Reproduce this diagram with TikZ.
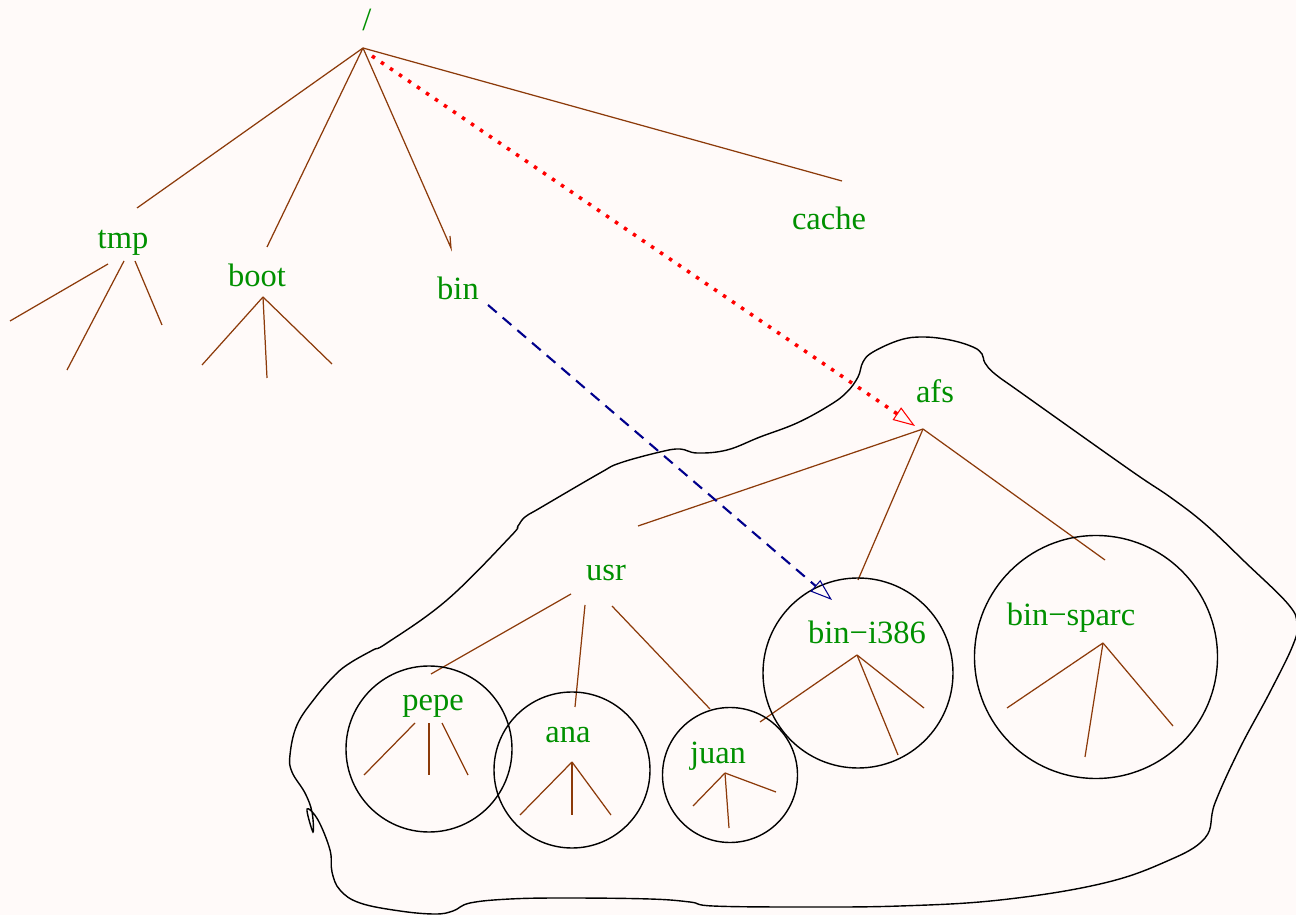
\documentclass[tikz,border=0pt]{standalone}
\usepackage{fontspec}
\setmainfont{Liberation Serif}
\usetikzlibrary{arrows.meta}

\definecolor{dirgreen}{RGB}{0,144,0}
\definecolor{linkbrown}{RGB}{140,58,10}
\definecolor{linknavy}{RGB}{0,0,140}
\definecolor{pagebg}{RGB}{255,250,249}

\begin{document}
\begin{tikzpicture}[x=0.02cm,y=-0.02cm,
    dir/.style={text=dirgreen,font=\fontsize{18.5}{22}\selectfont,inner sep=0pt,anchor=base},
    br/.style={draw=linkbrown,line width=0.7pt},
    ring/.style={draw=black,line width=0.8pt},
    tip/.style={-{Triangle[open,length=0.44cm,width=0.3cm,line width=0.6pt]}}]
  \fill[pagebg] (0,0) rectangle (1296,915);
  \useasboundingbox (0,0) rectangle (1296,915);

  % labels
  \node[dir] (root) at (367,31) {/};
  \node[dir] (tmp) at (123,249) {tmp};
  \node[dir] (boot) at (257,287) {boot};
  \node[dir] (bin) at (458,300) {bin};
  \node[dir] (cache) at (829,230) {cache};
  \node[dir] (afs) at (935,403) {afs};
  \node[dir] (usr) at (606,581) {usr};
  \node[dir] (pepe) at (433,710) {pepe};
  \node[dir] (ana) at (568,743) {ana};
  \node[dir] (juan) at (718,764) {juan};
  \node[dir] (i386) at (867,643) {bin−i386};
  \node[dir] (sparc) at (1071,626) {bin−sparc};

  % fork points
  \coordinate (rootfork) at (363,48);
  \coordinate (bootfork) at (263,297);
  \coordinate (afsfork) at (923,429);
  \coordinate (anafork) at (572,762);
  \coordinate (juanfork) at (725,773);
  \coordinate (i386fork) at (857,655);
  \coordinate (sparcfork) at (1103,643);

  % top level
  \draw[br] (rootfork) -- (137,208);
  \draw[br] (rootfork) -- (267,247);
  \draw[br] (rootfork) -- (451,248) -- (450,236);
  \draw[br] (rootfork) -- (842,181);

  \draw[br] (108,264) -- (10,321);
  \draw[br] (124,261) -- (67,370);
  \draw[br] (135,261) -- (162,325);

  \foreach \p in {(202,365),(267,378),(332,364)}
    \draw[br] (bootfork) -- \p;

  % under afs
  \foreach \p in {(638,526),(858,580),(1105,560)}
    \draw[br] (afsfork) -- \p;

  \draw[br] (571,594) -- (431,674);
  \draw[br] (585,605) -- (575,707);
  \draw[br] (612,606) -- (710,709);

  \draw[br] (415,723) -- (364,775);
  \draw[br] (429,723) -- (429,775);
  \draw[br] (442,723) -- (468,775);

  \foreach \p in {(520,815),(572,815),(611,815)}
    \draw[br] (anafork) -- \p;
  \foreach \p in {(693,806),(729,828),(776,792)}
    \draw[br] (juanfork) -- \p;
  \foreach \p in {(760,722),(898,755),(924,708)}
    \draw[br] (i386fork) -- \p;
  \foreach \p in {(1007,708),(1085,757),(1173,726)}
    \draw[br] (sparcfork) -- \p;

  % mounted volumes
  \draw[ring] (429,749) circle[radius=83];
  \draw[ring] (572,770) circle[radius=78];
  \draw[ring] (730,775) circle[radius=67.5];
  \draw[ring] (858,673) circle[radius=95];
  \draw[ring] (1096,657) circle[radius=121.5];

  % the cell
  \draw[ring] plot[smooth cycle,tension=0.65] coordinates {
    (858,377) (863,362) (873,352) (900,340) (923,337) (950,340) (973,347)
    (982,354) (985,363) (995,374) (1020,392) (1130,470) (1170,497) (1205,524)
    (1245,562) (1288,604) (1297,624) (1293,645) (1270,692) (1240,748)
    (1215,803) (1205,838) (1165,862) (1100,884) (1000,900) (900,906)
    (800,907) (713,906) (690,902) (650,899) (567,898) (510,899) (470,903)
    (453,911) (435,914) (400,911) (360,903) (340,890) (332,872) (330,850)
    (318,820) (307,809) (313,832) (312,812) (305,793) (292,772) (290,755)
    (297,725) (315,698) (335,675) (350,663) (373,650) (387,643) (447,600)
    (510,537) (518,526) (525,517) (540,508) (600,473) (620,463) (660,452)
    (680,449) (697,453) (727,450) (760,437) (797,423) (830,405) (847,392)};

  % links
  \draw[red,line width=2pt,dash pattern=on 2pt off 4.2pt,tip] (372,56) -- (915,426);
  \draw[linknavy,line width=1.2pt,dash pattern=on 6.5pt off 4.5pt,tip] (488,305) -- (832,600);
\end{tikzpicture}
\end{document}
